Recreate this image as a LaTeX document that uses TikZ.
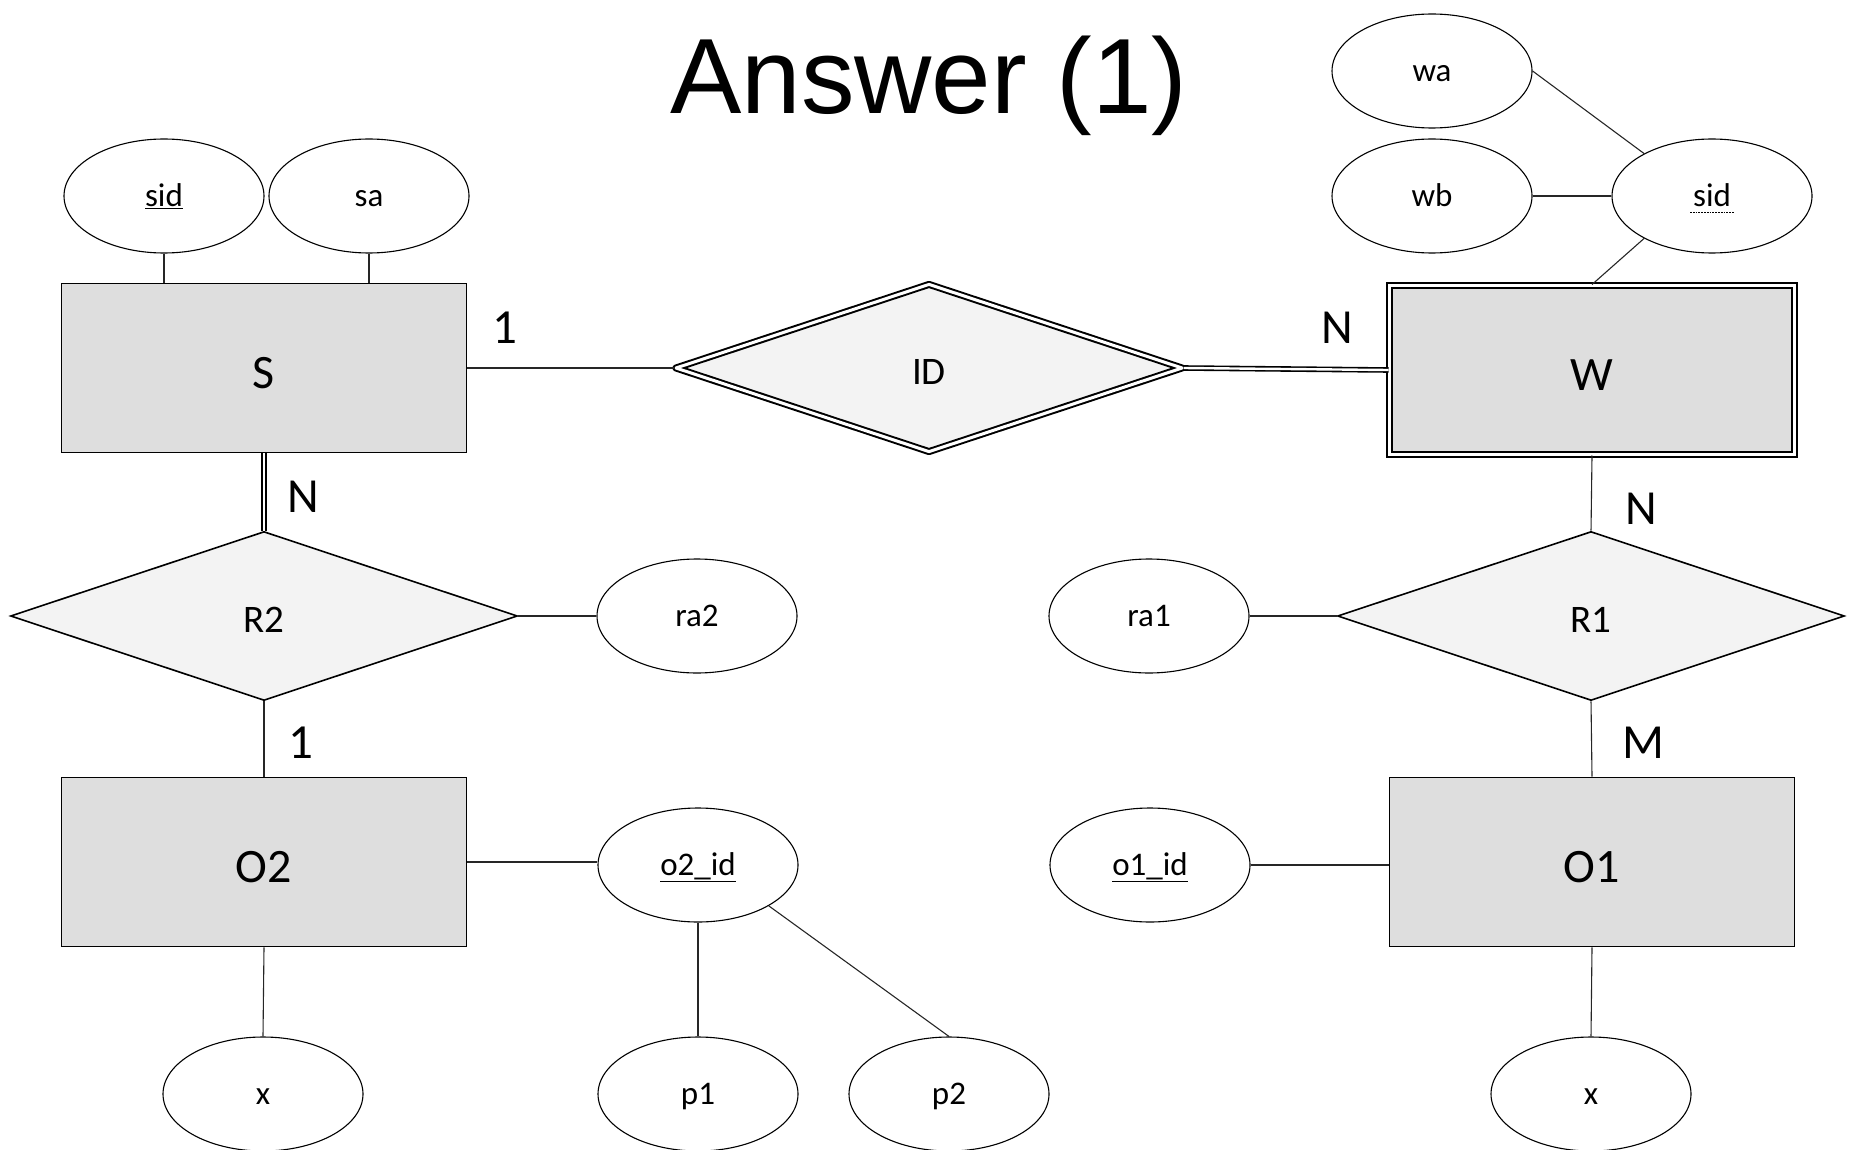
\documentclass[tikz,border=0pt]{standalone}
\usepackage{fontspec}
\setmainfont{Carlito}
\newfontfamily\titlefont{Liberation Sans}
\usetikzlibrary{shapes.geometric,calc}
\definecolor{boxgray}{HTML}{DEDEDE}
\definecolor{relgray}{HTML}{F3F3F3}
\newcommand\bw{405pt}

\begin{document}
\begin{tikzpicture}[x=1pt, y=-1pt,
      entity/.style = {
        draw=black,
        fill=boxgray,
        line width=1.6pt,
        minimum width=\bw,
        minimum height=169pt,
        text height=40pt,
        text depth=0pt,
        font=\fontsize{48}{52}\selectfont,
      },
      weak/.style = {
        entity,
        double=white,
        double distance=2.4pt,
        line width=2pt,
      },
      relation/.style = {
        diamond,
        draw=black,
        fill=relgray,
        line width=1.6pt,
        inner sep=0pt,
        minimum width=507pt,
        minimum height=169pt,
        text height=33pt,
        text depth=0pt,
        font=\fontsize{39}{43}\selectfont,
      },
      attr/.style = {
        ellipse,
        draw=black,
        fill=white,
        line width=1.1pt,
        inner sep=0pt,
        minimum width=200pt,
        minimum height=114pt,
        text height=25pt,
        text depth=4pt,
        font=\fontsize{33}{37}\selectfont,
      },
      card/.style = {
        font=\fontsize{49}{53}\selectfont,
      },
      conn/.style = {
        draw=black!85,
        line width=1.1pt,
      },
      total/.style = {
        draw=black,
        line width=1.6pt,
        double=white,
        double distance=2.4pt,
      },
    ]
      \useasboundingbox (0,0) rectangle (1851,1150);

      \node[font=\titlefont\fontsize{107}{120}\selectfont] (title) at (929,86) {Answer (1)};

      % entities
      \node[entity] (S) at (264,368) {S};
      \node[weak] (W) at (1592,370) {W};
      \node[entity] (O2) at (264,862) {O2};
      \node[entity] (O1) at (1592,862) {O1};

      % relationships
      \node[relation, double=white, double distance=3pt, line width=2pt,
            line join=round, minimum height=168pt] (ID) at (929,368) {ID};
      \node[relation] (R2) at (264,616) {R2};
      \node[relation] (R1) at (1591,616) {R1};

      % attributes
      \node[attr] (sidS) at (164,196) {\underline{sid}};
      \node[attr] (sa) at (369,196) {sa};
      \node[attr] (wa) at (1432,71) {wa};
      \node[attr] (wb) at (1432,196) {wb};
      \node[attr] (sidW) at (1712,196) {sid};
      \node[attr] (ra2) at (697,616) {ra2};
      \node[attr] (ra1) at (1149,616) {ra1};
      \node[attr] (oid2) at (698,865) {\underline{o2\_id}};
      \node[attr] (oid1) at (1150,865) {\underline{o1\_id}};
      \node[attr] (xa) at (263,1094) {x};
      \node[attr] (p1) at (698,1094) {p1};
      \node[attr] (p2) at (949,1094) {p2};
      \node[attr] (xb) at (1591,1094) {x};

      % partial key
      \draw[densely dotted, line width=1.8pt] ($(sidW.base)+(-22,6)$) -- ++(44,0);

      % cardinalities
      \node[card] (c1) at (505,328) {1};
      \node[card] (c2) at (1337,328) {N};
      \node[card] (c3) at (303,497) {N};
      \node[card] (c4) at (301,743) {1};
      \node[card] (c5) at (1641,509) {N};
      \node[card] (c6) at (1643,743) {M};

      % connectors
      \draw[conn] (sidS.south) -- (sidS.south |- S.north);
      \draw[conn] (sa.south) -- (sa.south |- S.north);
      \draw[conn] (wa.east) -- (sidW.148);
      \draw[conn] (wb.east) -- (sidW.west);
      \draw[conn] (sidW.212) -- (W.north);
      \draw[conn] (S.east) -- (ID.west);
      \draw[total] (ID.east) -- (W.west);
      \draw[total] (S.south) -- (R2.north);
      \draw[conn] (R2.east) -- (ra2.west);
      \draw[conn] (R2.south) -- (O2.north);
      \draw[conn] (O2.east) -- (O2.east -| oid2.west);
      \draw[conn] (oid2.south) -- (p1.north);
      \draw[conn] (oid2.330) -- (p2.north);
      \draw[conn] (O2.south) -- (xa.north);
      \draw[conn] (W.south) -- (R1.north);
      \draw[conn] (ra1.east) -- (R1.west);
      \draw[conn] (R1.south) -- (O1.north);
      \draw[conn] (oid1.east) -- (oid1.east -| O1.west);
      \draw[conn] (O1.south) -- (xb.north);

    \end{tikzpicture}
\end{document}
